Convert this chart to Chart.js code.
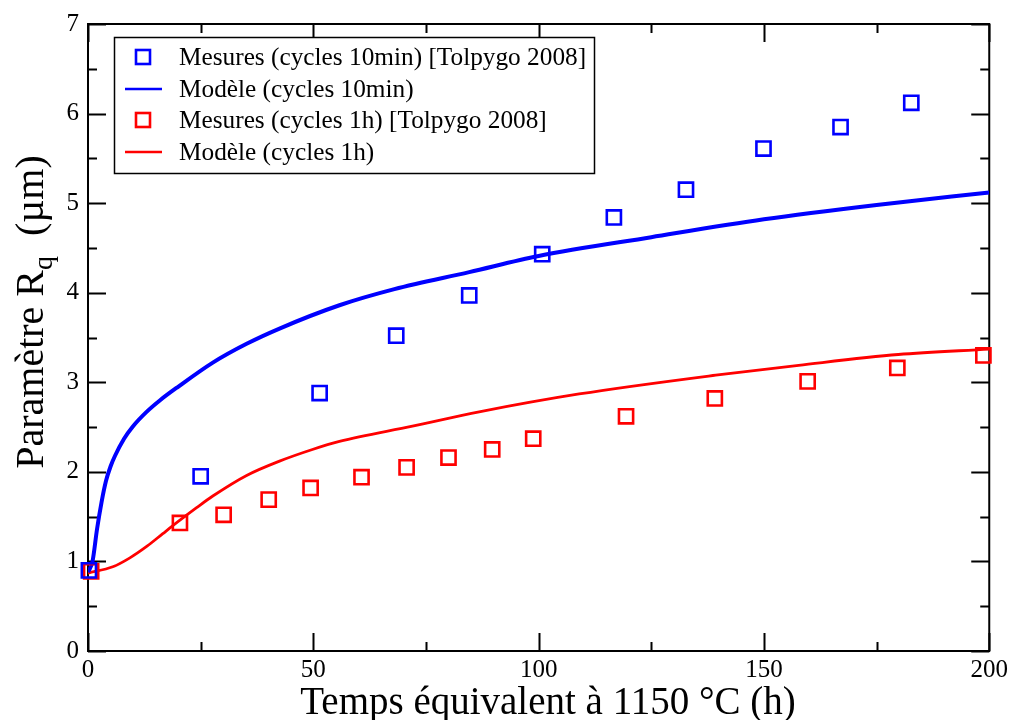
<!DOCTYPE html>
<html lang="fr">
<head>
  <meta charset="utf-8" />
  <style>
    html, body { margin: 0; padding: 0; background: #fff; }
    #wrap { width: 1012px; height: 720px; }
  </style>
  <script src="https://cdn.jsdelivr.net/npm/chart.js/dist/chart.umd.min.js"></script>
</head>
<body>
  <div id="wrap"><canvas id="rq" width="1012" height="720"></canvas></div>
  <script>
// Mesures Tolpygo 2008, cycles 10 min
const mes10X = [0.2, 25.0, 51.4, 68.4, 84.6, 100.8, 116.7, 132.7, 149.9, 167.0, 182.7];
const mes10Y = [0.90, 1.95, 2.88, 3.52, 3.97, 4.43, 4.84, 5.15, 5.61, 5.85, 6.12];
// Mesures Tolpygo 2008, cycles 1 h
const mes1hX = [0.7, 20.4, 30.1, 40.1, 49.4, 60.7, 70.7, 80.0, 89.7, 98.8, 119.4, 139.1, 159.7, 179.6, 198.7];
const mes1hY = [0.89, 1.43, 1.52, 1.69, 1.82, 1.94, 2.05, 2.16, 2.25, 2.37, 2.62, 2.82, 3.01, 3.16, 3.30];
// Modèle, cycles 10 min
const mod10X = [0, 1, 2, 3, 4, 5, 6, 8, 10, 13, 16, 20, 27.7, 35.2, 42.5, 55.8, 68, 84.6, 100, 125, 150, 175, 200];
const mod10Y = [0.88, 1.00, 1.36, 1.66, 1.90, 2.06, 2.18, 2.37, 2.51, 2.67, 2.80, 2.95, 3.22, 3.43, 3.60, 3.86, 4.04, 4.23, 4.41, 4.62, 4.82, 4.98, 5.12];
// Modèle, cycles 1 h
const mod1hX = [0, 5.5, 9.3, 13.1, 16.6, 20.4, 24.1, 27.7, 35.2, 42.5, 49.8, 55.8, 72, 86.8, 109, 139.3, 157.7, 179.8, 200];
const mod1hY = [0.87, 0.94, 1.04, 1.17, 1.31, 1.46, 1.60, 1.73, 1.96, 2.12, 2.25, 2.34, 2.51, 2.67, 2.87, 3.08, 3.19, 3.31, 3.37];

const xTicks = [0, 50, 100, 150, 200];
const yTicks = [0, 1, 2, 3, 4, 5, 6, 7];

const legendLabels = [
  'Mesures (cycles 10min) [Tolpygo 2008]',
  'Modèle (cycles 10min)',
  'Mesures (cycles 1h) [Tolpygo 2008]',
  'Modèle (cycles 1h)'
];

const SERIF = '"Liberation Serif", "DejaVu Serif", serif';
const BLUE = '#0000ff';
const RED = '#ff0000';

function pts(xs, ys) {
  return xs.map((x, i) => ({ x: x, y: ys[i] }));
}

// cadre et graduations tournées vers l'intérieur (style xmgrace)
const cadre = {
  id: 'cadre',
  beforeDatasetsDraw(chart) {
    const { ctx, chartArea: a, scales } = chart;
    const sx = scales.x, sy = scales.y;
    ctx.save();
    ctx.strokeStyle = '#000';
    ctx.lineWidth = 2;
    ctx.strokeRect(a.left, a.top, a.right - a.left, a.bottom - a.top);
    ctx.beginPath();
    for (let v = 0; v <= 200; v += 25) {
      const len = v % 50 === 0 ? 18 : 9;
      const px = Math.round(sx.getPixelForValue(v)) + 0.5;
      ctx.moveTo(px, a.bottom); ctx.lineTo(px, a.bottom - len);
      ctx.moveTo(px, a.top); ctx.lineTo(px, a.top + len);
    }
    for (let v = 0; v <= 7; v += 0.5) {
      const len = Number.isInteger(v) ? 18 : 9;
      const py = Math.round(sy.getPixelForValue(v)) + 0.5;
      ctx.moveTo(a.left, py); ctx.lineTo(a.left + len, py);
      ctx.moveTo(a.right, py); ctx.lineTo(a.right - len, py);
    }
    ctx.stroke();
    ctx.restore();
  },
  afterDraw(chart) {
    const { ctx } = chart;
    ctx.save();
    ctx.fillStyle = '#000';
    // titre axe x
    ctx.font = '39px ' + SERIF;
    ctx.textAlign = 'center';
    ctx.textBaseline = 'alphabetic';
    ctx.fillText('Temps équivalent à 1150 °C (h)', 548, 714);
    // titre axe y avec indice
    const big = '40px ' + SERIF, small = '28px ' + SERIF;
    ctx.font = big;
    const w1 = ctx.measureText('Paramètre R').width;
    const w3 = ctx.measureText('  (µm)').width;
    ctx.font = small;
    const w2 = ctx.measureText('q').width;
    const total = w1 + w2 + w3;
    ctx.translate(43, 312);
    ctx.rotate(-Math.PI / 2);
    ctx.textAlign = 'left';
    let p = -total / 2;
    ctx.font = big; ctx.fillText('Paramètre R', p, 0); p += w1;
    ctx.font = small; ctx.fillText('q', p, 9); p += w2;
    ctx.font = big; ctx.fillText('  (µm)', p, 0);
    ctx.restore();

    // légende
    ctx.save();
    ctx.fillStyle = '#fff';
    ctx.fillRect(114, 37, 480, 136);
    ctx.strokeStyle = '#000';
    ctx.lineWidth = 1.5;
    ctx.strokeRect(114.5, 37.5, 480, 136);
    const rows = [57, 89, 120, 152];
    const cols = [BLUE, BLUE, RED, RED];
    rows.forEach((y, i) => {
      ctx.strokeStyle = cols[i];
      if (i % 2 === 0) {
        ctx.lineWidth = 2.6;
        ctx.strokeRect(143 - 7, y - 7, 14, 14);
      } else {
        ctx.lineWidth = 2.5;
        ctx.beginPath(); ctx.moveTo(125, y); ctx.lineTo(162, y); ctx.stroke();
      }
      ctx.fillStyle = '#000';
      ctx.font = '25.3px ' + SERIF;
      ctx.textAlign = 'left';
      ctx.textBaseline = 'middle';
      ctx.fillText(legendLabels[i], 179, y + 1);
    });
    ctx.restore();
  }
};

new Chart(document.getElementById('rq'), {
  type: 'scatter',
  data: {
    datasets: [
      {
        label: legendLabels[0], data: pts(mes10X, mes10Y),
        pointStyle: 'rect', pointRadius: 10, pointBorderWidth: 2.6,
        borderColor: BLUE, backgroundColor: 'rgba(0,0,0,0)', showLine: false, clip: false
      },
      {
        label: legendLabels[2], data: pts(mes1hX, mes1hY),
        pointStyle: 'rect', pointRadius: 10, pointBorderWidth: 2.6,
        borderColor: RED, backgroundColor: 'rgba(0,0,0,0)', showLine: false, clip: false
      },
      {
        label: legendLabels[1], data: pts(mod10X, mod10Y),
        showLine: true, pointRadius: 0, borderColor: BLUE, borderWidth: 4,
        cubicInterpolationMode: 'monotone', fill: false
      },
      {
        label: legendLabels[3], data: pts(mod1hX, mod1hY),
        showLine: true, pointRadius: 0, borderColor: RED, borderWidth: 2.8,
        cubicInterpolationMode: 'monotone', fill: false
      }
    ]
  },
  options: {
    responsive: false,
    animation: false,
    layout: { padding: { top: 20, right: 21, left: 0, bottom: 0 } },
    plugins: { legend: { display: false }, tooltip: { enabled: false } },
    scales: {
      x: {
        type: 'linear', min: 0, max: 200,
        afterFit: s => { s.height = 69; },
        afterBuildTicks: s => { s.ticks = xTicks.map(v => ({ value: v })); },
        grid: { display: false, drawTicks: false },
        border: { display: false },
        ticks: { color: '#000', padding: 4, font: { family: SERIF, size: 25 } }
      },
      y: {
        type: 'linear', min: 0, max: 7,
        afterFit: s => { s.width = 88; },
        afterBuildTicks: s => { s.ticks = yTicks.map(v => ({ value: v })); },
        grid: { display: false, drawTicks: false },
        border: { display: false },
        ticks: { color: '#000', padding: 9, font: { family: SERIF, size: 25 } }
      }
    }
  },
  plugins: [cadre]
});
  </script>
</body>
</html>
